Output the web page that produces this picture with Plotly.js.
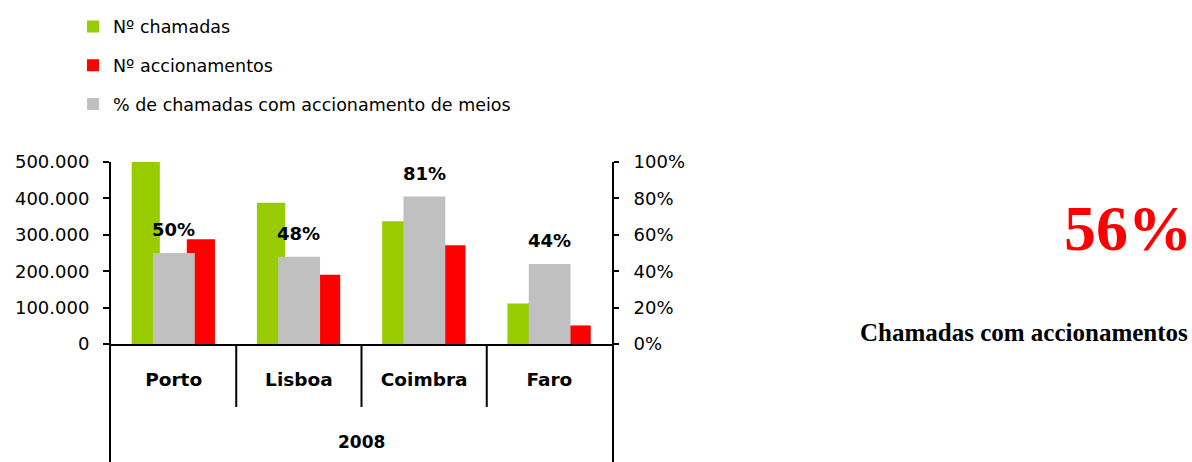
<!DOCTYPE html>
<html>
<head>
<meta charset="utf-8">
<script src="https://cdn.plot.ly/plotly-3.0.1.min.js"></script>
<style>
  html, body { margin: 0; padding: 0; background: #fff; }
  #chart { width: 1192px; height: 462px; }
</style>
</head>
<body>
<div id="chart"></div>
<script>
// ---- data ----
const categories = ['Porto', 'Lisboa', 'Coimbra', 'Faro'];
const groupLabel = '2008';
const seriesNames = ['Nº chamadas', 'Nº accionamentos', '% de chamadas com accionamento de meios'];
const chamadas = [500000, 388000, 337500, 111500];
const accionamentos = [288000, 190000, 271000, 51000];
const pctAccionamento = [0.50, 0.48, 0.81, 0.44];
const leftTickVals = [0, 100000, 200000, 300000, 400000, 500000];
const rightTickVals = [0, 0.2, 0.4, 0.6, 0.8, 1.0];
const overallPct = '56%';
const overallLabel = 'Chamadas com accionamentos';

// ---- styles ----
const GREEN = '#99CC00', RED = '#FF0000', GRAY = '#C0C0C0';
const SANS = 'DejaVu Sans, Liberation Sans, Arial, sans-serif';
const SERIF = 'Liberation Serif, Times New Roman, serif';
const n = categories.length;

const traces = [
  {
    type: 'bar', name: seriesNames[0], x: categories, y: chamadas,
    offset: -0.335, width: 0.225, marker: { color: GREEN },
    xaxis: 'x', yaxis: 'y', legendrank: 1, legendgroup: 'a', hoverinfo: 'skip'
  },
  {
    type: 'bar', name: seriesNames[1], x: categories, y: accionamentos,
    offset: 0.105, width: 0.225, marker: { color: RED },
    xaxis: 'x', yaxis: 'y', legendrank: 2, legendgroup: 'b', hoverinfo: 'skip'
  },
  {
    type: 'bar', name: seriesNames[2], x: categories, y: pctAccionamento,
    offset: -0.165, width: 0.334, marker: { color: GRAY },
    xaxis: 'x', yaxis: 'y2', legendrank: 3, legendgroup: 'c', hoverinfo: 'skip'
  }
];

const annotations = [];
// bar value labels above the grey bars
pctAccionamento.forEach(function (v, i) {
  annotations.push({
    x: i, y: v, xref: 'x', yref: 'y2', xanchor: 'center', yanchor: 'bottom',
    yshift: 11, showarrow: false, text: Math.round(v * 100) + '%',
    font: { family: SANS, size: 18, color: '#000', weight: 700 }
  });
});
// group label under the categories
annotations.push({
  x: 0.5, y: -0.536, xref: 'paper', yref: 'paper', xanchor: 'center', yanchor: 'middle',
  showarrow: false, text: groupLabel,
  font: { family: SANS, size: 17, color: '#000', weight: 700 }
});
// big KPI on the right
annotations.push({
  x: 2.162, y: 0.635, xref: 'paper', yref: 'paper', xanchor: 'right', yanchor: 'middle',
  showarrow: false, text: overallPct,
  font: { family: SERIF, size: 64, color: '#FF0000', weight: 700 }
});
annotations.push({
  x: 2.154, y: 0.064, xref: 'paper', yref: 'paper', xanchor: 'right', yanchor: 'middle',
  showarrow: false, text: overallLabel,
  font: { family: SERIF, size: 25, color: '#000', weight: 700 }
});

// separator lines in the category area
const shapes = [];
for (let i = 1; i < n; i++) {
  shapes.push({
    type: 'line', xref: 'x', yref: 'paper', x0: i - 0.5, x1: i - 0.5, y0: 0, y1: -0.346,
    line: { color: '#000', width: 2 }
  });
}
[[0, -1], [1, 1]].forEach(function (e) {
  shapes.push({
    type: 'line', xref: 'paper', xsizemode: 'pixel', xanchor: e[0], x0: e[1], x1: e[1],
    yref: 'paper', y0: 0, y1: -0.7, line: { color: '#000', width: 2 }
  });
});

const layout = {
  width: 1192, height: 462,
  margin: { l: 111, r: 580, t: 162, b: 118, autoexpand: false },
  paper_bgcolor: '#fff', plot_bgcolor: '#fff',
  separators: ',.',
  barmode: 'overlay',
  showlegend: true,
  legend: {
    x: -0.0758, y: 1.843, xanchor: 'left', yanchor: 'top',
    orientation: 'v', traceorder: 'grouped', tracegroupgap: 13,
    font: { family: SANS, size: 17.5, color: '#000' },
    bgcolor: 'rgba(0,0,0,0)', borderwidth: 0
  },
  xaxis: {
    type: 'category', range: [-0.5, n - 0.5], fixedrange: true,
    showline: true, linecolor: '#000', linewidth: 2,
    ticks: '', showgrid: false, zeroline: false,
    tickfont: { family: SANS, size: 18.5, color: '#000', weight: 700 },
    ticklabelstandoff: 18
  },
  yaxis: {
    range: [0, 500000], tickvals: leftTickVals, tickformat: ',d',
    showline: true, linecolor: '#000', linewidth: 2,
    ticks: 'outside', ticklen: 6, tickwidth: 2, tickcolor: '#000',
    showgrid: false, zeroline: false, fixedrange: true,
    tickfont: { family: SANS, size: 18, color: '#000' },
    ticklabelstandoff: 10
  },
  yaxis2: {
    overlaying: 'y', side: 'right', range: [0, 1], tickvals: rightTickVals, tickformat: '.0%',
    showline: true, linecolor: '#000', linewidth: 2,
    ticks: 'outside', ticklen: 5, tickwidth: 2, tickcolor: '#000',
    showgrid: false, zeroline: false, fixedrange: true,
    tickfont: { family: SANS, size: 18, color: '#000' },
    ticklabelstandoff: 11
  },
  annotations: annotations,
  shapes: shapes
};

Plotly.newPlot('chart', traces, layout, { displayModeBar: false, staticPlot: true });
</script>
</body>
</html>
